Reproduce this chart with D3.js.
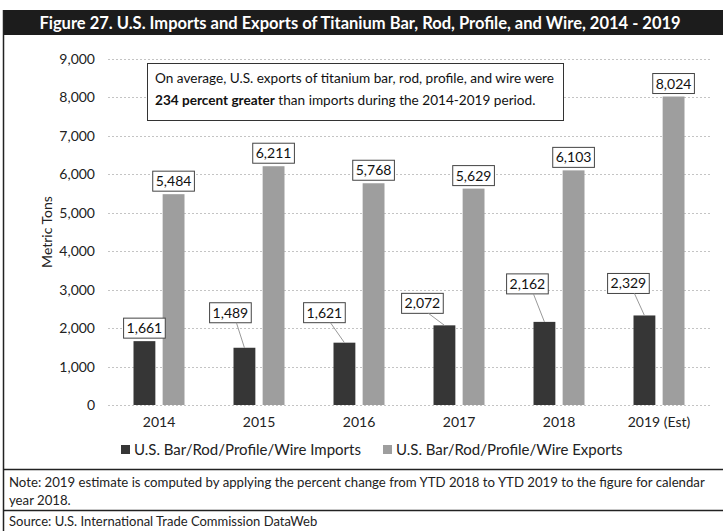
<!DOCTYPE html>
<html><head><meta charset="utf-8">
<script src="https://cdn.jsdelivr.net/npm/d3@7"></script>
<style>body{margin:0;background:#fff}svg{display:block;font-family:Lato,"Open Sans",sans-serif}</style>
</head><body>
<script>
const years = ["2014","2015","2016","2017","2018","2019 (Est)"];
const imports = [1661,1489,1621,2072,2162,2329];
const exports = [5484,6211,5768,5629,6103,8024];
const yTicks = [0,1000,2000,3000,4000,5000,6000,7000,8000,9000];
const seriesNames = ["U.S. Bar/Rod/Profile/Wire Imports","U.S. Bar/Rod/Profile/Wire Exports"];
const titleText = "Figure 27. U.S. Imports and Exports of Titanium Bar, Rod, Profile, and Wire, 2014 - 2019";
const noteLines = ["Note: 2019 estimate is computed by applying the percent change from YTD 2018 to YTD 2019 to the figure for calendar","year 2018."];
const sourceText = "Source: U.S. International Trade Commission DataWeb";
// label layout offsets for import labels (dx from bar center, gap above bar top)
const impLabelOffsets = [[0,3],[-14,25],[-20,20],[-22,12],[-17,28],[-16,22]];

const W=723,H=531;
const svg=d3.select("body").append("svg").attr("width",W).attr("height",H);
const colImp="#363636", colExp="#9e9e9e";

// title bar
svg.append("rect").attr("x",3).attr("y",10).attr("width",W-3).attr("height",25).attr("fill","#1c1c1c");
svg.append("text").attr("x",360).attr("y",28.5).attr("text-anchor","middle").attr("fill","#fff")
  .attr("font-weight","bold").attr("font-size",16.5).text(titleText);
// frame
svg.append("line").attr("x1",3.5).attr("x2",3.5).attr("y1",10).attr("y2",H).attr("stroke","#222").attr("stroke-width",1.5);
svg.append("line").attr("x1",3).attr("x2",W).attr("y1",469.5).attr("y2",469.5).attr("stroke","#222").attr("stroke-width",1.5);
svg.append("line").attr("x1",3).attr("x2",W).attr("y1",510.5).attr("y2",510.5).attr("stroke","#222").attr("stroke-width",1.5);

const y=d3.scaleLinear().domain([0,9000]).range([405,59]);
const x0=d3.scaleBand().domain(years).range([109,709]).paddingInner(0.49).paddingOuter(0.245);
const x1=d3.scaleBand().domain(["imp","exp"]).range([0,x0.bandwidth()]).paddingInner(0.25);

// gridlines
svg.append("g").selectAll("line").data(yTicks).join("line")
  .attr("x1",108).attr("x2",712).attr("y1",d=>Math.round(y(d))+0.5).attr("y2",d=>Math.round(y(d))+0.5)
  .attr("stroke","#c4c4c4").attr("stroke-dasharray","2,2");
// y axis labels
const yAxis=d3.axisLeft(y).tickValues(yTicks).tickFormat(d3.format(",")).tickSize(0).tickPadding(0);
const ga=svg.append("g").attr("transform","translate(95,0)").call(yAxis);
ga.select(".domain").remove();
ga.selectAll("text").attr("font-size",14).attr("fill","#222").attr("font-family","Lato");
svg.append("text").attr("transform","translate(52,232) rotate(-90)").attr("text-anchor","middle")
  .attr("font-size",14).attr("fill","#222").text("Metric Tons");

// x axis labels
const xAxis=d3.axisBottom(x0).tickSize(0).tickPadding(0);
const gx=svg.append("g").attr("transform","translate(0,417)").call(xAxis);
gx.select(".domain").remove();
gx.selectAll("text").attr("font-size",14).attr("fill","#222").attr("font-family","Lato");

// bars
const g=svg.append("g");
years.forEach((yr,i)=>{
  const gx0=x0(yr);
  g.append("rect").attr("x",gx0+x1("imp")).attr("y",y(imports[i])).attr("width",x1.bandwidth()).attr("height",y(0)-y(imports[i])).attr("fill",colImp);
  g.append("rect").attr("x",gx0+x1("exp")).attr("y",y(exports[i])).attr("width",x1.bandwidth()).attr("height",y(0)-y(exports[i])).attr("fill",colExp);
});

function labelBox(cx,bottom,txt,leader){
  const t=svg.append("text").attr("x",cx).attr("y",bottom-5).attr("text-anchor","middle")
    .attr("font-size",14).attr("fill","#111").text(txt);
  const bb=t.node().getBBox();
  const bx=cx-bb.width/2-3, bw=bb.width+6, by=bottom-20, bh=20;
  if(leader){
    svg.append("line").attr("x1",leader[0]).attr("y1",by+bh).attr("x2",leader[1]).attr("y2",leader[2]).attr("stroke","#999");
  }
  svg.insert("rect",()=>t.node()).attr("x",bx).attr("y",by).attr("width",bw).attr("height",bh)
    .attr("fill","#fff").attr("stroke","#444").attr("stroke-width",1);
}
const fmt=d3.format(",");
years.forEach((yr,i)=>{
  const cE=x0(yr)+x1("exp")+x1.bandwidth()/2;
  labelBox(cE,y(exports[i])-3,fmt(exports[i]),null);
  const cI=x0(yr)+x1("imp")+x1.bandwidth()/2;
  const [dx,gap]=impLabelOffsets[i];
  const bottom=y(imports[i])-gap;
  labelBox(cI+dx,bottom,fmt(imports[i]),gap>5?[cI+dx+6,cI,y(imports[i])]:null);
});

// annotation box
svg.append("rect").attr("x",147.5).attr("y",63.5).attr("width",416).attr("height",57).attr("fill","#fff").attr("stroke","#333");
svg.append("text").attr("x",155).attr("y",83).attr("font-size",13.6).attr("fill","#111")
  .text("On average, U.S. exports of titanium bar, rod, profile, and wire were");
const t2=svg.append("text").attr("x",155).attr("y",105).attr("font-size",13.6).attr("fill","#111");
t2.append("tspan").attr("font-weight","bold").text("234 percent greater");
t2.append("tspan").text(" than imports during the 2014-2019 period.");

// legend
const leg=svg.append("g").attr("transform","translate(0,455)");
const legX=[121,383];
seriesNames.forEach((n,i)=>{
  leg.append("rect").attr("x",legX[i]).attr("y",-10).attr("width",9).attr("height",9).attr("fill",i?colExp:colImp);
  leg.append("text").attr("x",legX[i]+13).attr("y",0).attr("font-size",15).attr("fill","#222").text(n);
});

// notes
noteLines.forEach((l,i)=>svg.append("text").attr("x",9).attr("y",487+i*18).attr("font-size",13.2).attr("fill","#222").text(l));
svg.append("text").attr("x",9).attr("y",526).attr("font-size",13).attr("fill","#222").text(sourceText);
</script>
</body></html>
